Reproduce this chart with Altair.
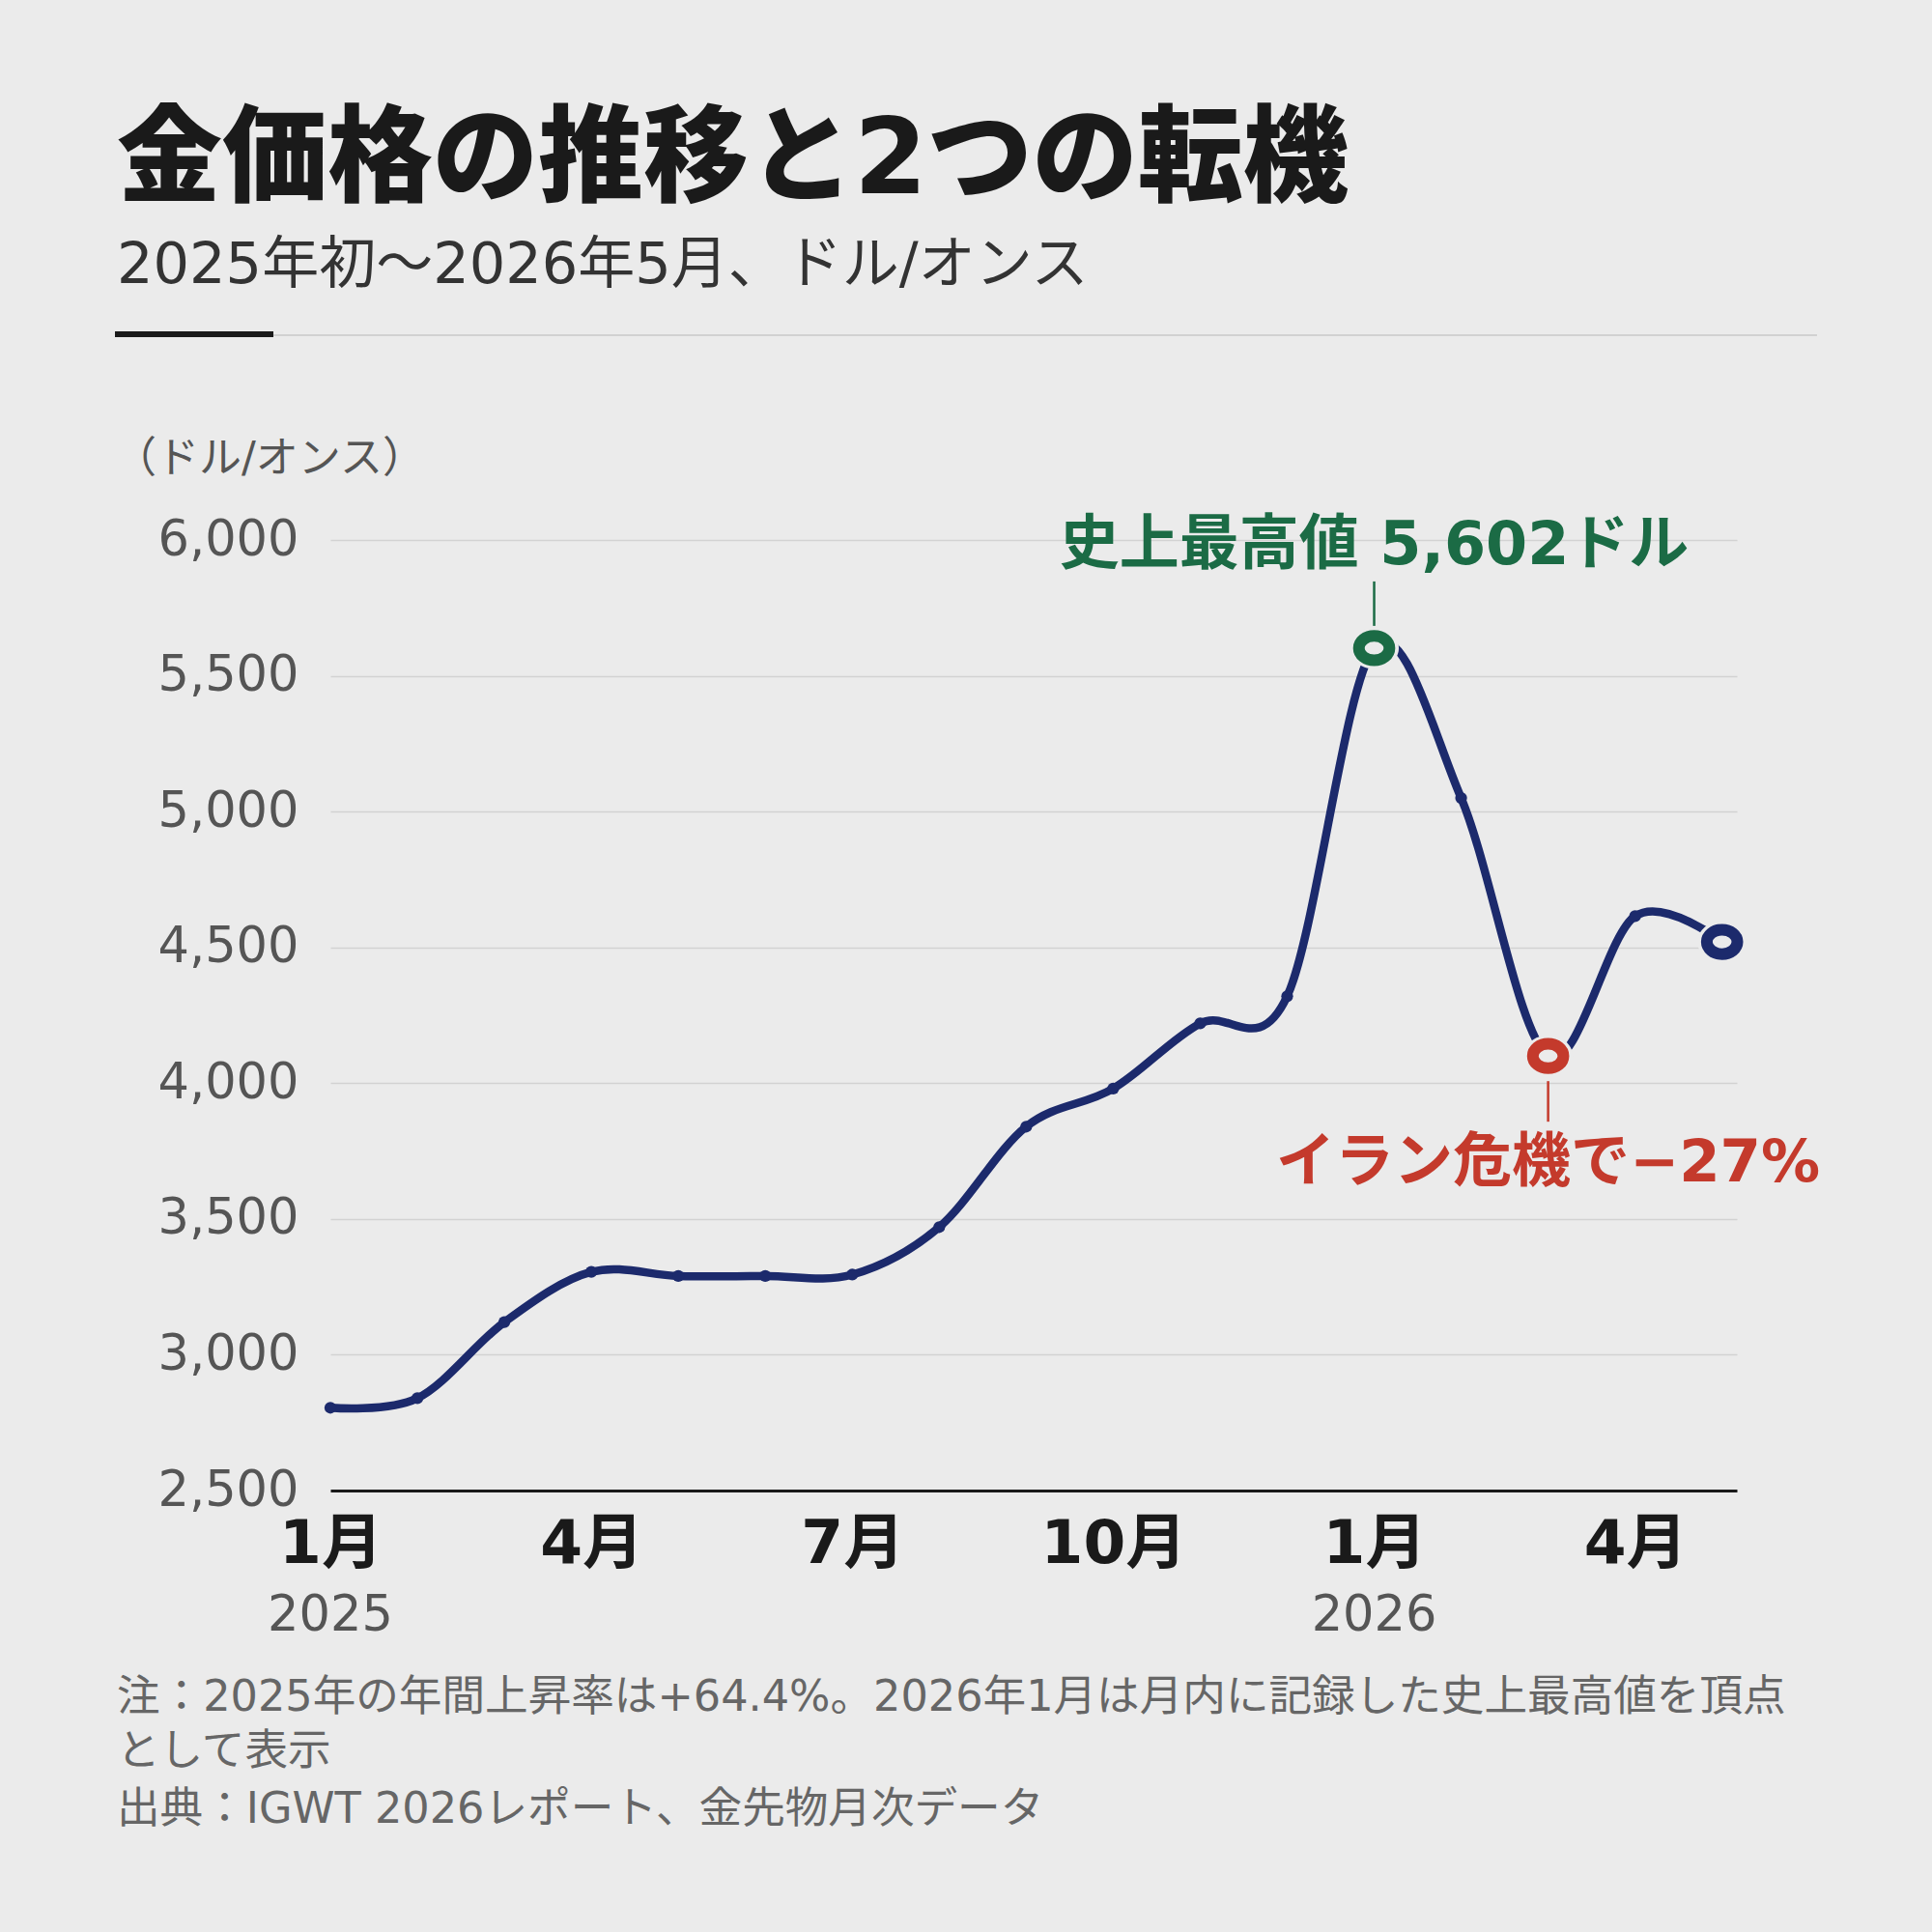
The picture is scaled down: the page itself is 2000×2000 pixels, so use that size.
import altair as alt
import pandas as pd

# ---- data -------------------------------------------------------------
month_idx = list(range(17))
month_names = ["2025-01", "2025-02", "2025-03", "2025-04", "2025-05", "2025-06",
               "2025-07", "2025-08", "2025-09", "2025-10", "2025-11", "2025-12",
               "2026-01", "2026-02", "2026-03", "2026-04", "2026-05"]
gold_price = [2805, 2840, 3120, 3305, 3290, 3290, 3295, 3470, 3840, 3980,
              4220, 4320, 5602, 5050, 4100, 4615, 4520]

x_tick_pos = [0, 3, 6, 9, 12, 15]
x_tick_labels = ["1月", "4月", "7月", "10月", "1月", "4月"]
year_pos = [0, 12]
year_labels = ["2025", "2026"]
y_ticks = [2500, 3000, 3500, 4000, 4500, 5000, 5500, 6000]

peak_idx = 12
low_idx = 14
last_idx = 16
peak_label = "史上最高値 5,602ドル"
low_label = "イラン危機で−27%"

title_text = "金価格の推移と2つの転機"
subtitle_text = "2025年初〜2026年5月、ドル/オンス"
unit_text = "（ドル/オンス）"
footer_lines = [
    "注：2025年の年間上昇率は+64.4%。2026年1月は月内に記録した史上最高値を頂点",
    "として表示",
    "出典：IGWT 2026レポート、金先物月次データ",
]

# ---- style ------------------------------------------------------------
BG = "#ebebeb"
NAVY = "#1c2a6c"
GREEN = "#1b6b45"
RED = "#c43a2c"
INK = "#1a1a1a"
GREY = "#555555"
FONT = "'DejaVu Sans', 'Noto Sans CJK JP', sans-serif"

W, H = 1456, 984
PAD_L, PAD_T = 342, 559

# slightly wide ellipse for ring markers
RING = "M -1 0 A 1 0.8 0 1 0 1 0 A 1 0.8 0 1 0 -1 0 Z"
HALO = "M -1 0 A 1 0.84 0 1 0 1 0 A 1 0.84 0 1 0 -1 0 Z"

df = pd.DataFrame({"idx": month_idx, "month": month_names, "price": gold_price})

label_expr = "{}[indexof({}, datum.value)]".format(
    "[" + ",".join("'%s'" % t for t in x_tick_labels) + "]",
    "[" + ",".join(str(p) for p in x_tick_pos) + "]",
)

x_enc = alt.X(
    "idx:Q",
    scale=alt.Scale(domain=[0, 16.17], nice=False, zero=False),
    axis=alt.Axis(
        values=x_tick_pos, labelExpr=label_expr, title=None, grid=False,
        ticks=False, domain=True, domainColor=INK, domainWidth=3,
        labelFont=FONT, labelFontSize=63, labelFontWeight="bold",
        labelColor=INK, labelPadding=24, labelOverlap=False, labelFlush=False,
    ),
)
y_enc = alt.Y(
    "price:Q",
    scale=alt.Scale(domain=[2500, 6000], nice=False, zero=False),
    axis=alt.Axis(
        values=y_ticks, format=",.0f", title=None, grid=True, gridColor="#d2d2d2",
        gridWidth=1.5, domain=False, ticks=False, labelFont=FONT,
        labelFontSize=51, labelColor=GREY, labelPadding=33,
    ),
)

base = alt.Chart(df).encode(x=x_enc, y=y_enc)

line = base.mark_line(color=NAVY, strokeWidth=8.5, interpolate="cardinal",
                      strokeCap="round")
dots = base.mark_circle(color=NAVY, size=150, opacity=1)


def marker_layer(i, color):
    sub = df[df["idx"] == i]
    b = alt.Chart(sub).encode(x="idx:Q", y="price:Q")
    halo = b.mark_point(shape=HALO, filled=True, fill=BG, stroke=None,
                        size=2600, opacity=1)
    ring = b.mark_point(shape=RING, filled=True, fill=BG, stroke=color,
                        strokeWidth=12, size=1000, opacity=1)
    return halo + ring


peak_df = df[df["idx"] == peak_idx].assign(label=peak_label)
low_df = df[df["idx"] == low_idx].assign(label=low_label)

peak_lead = alt.Chart(peak_df).mark_rule(
    color=GREEN, strokeWidth=2.5, yOffset=-23, y2Offset=-69
).encode(x="idx:Q", y="price:Q", y2="price:Q")
peak_text = alt.Chart(peak_df).mark_text(
    font=FONT, fontSize=62, fontWeight="bold", color=GREEN,
    align="center", baseline="middle", dy=-106,
).encode(x="idx:Q", y="price:Q", text="label:N")

low_lead = alt.Chart(low_df).mark_rule(
    color=RED, strokeWidth=2.5, yOffset=26, y2Offset=68
).encode(x="idx:Q", y="price:Q", y2="price:Q")
low_text = alt.Chart(low_df).mark_text(
    font=FONT, fontSize=61, fontWeight="bold", color=RED,
    align="center", baseline="middle", dy=112,
).encode(x="idx:Q", y="price:Q", text="label:N")

years_df = pd.DataFrame({"idx": year_pos, "label": year_labels})
years = alt.Chart(years_df).mark_text(
    font=FONT, fontSize=51, color=GREY, align="center", baseline="middle"
).encode(x="idx:Q", y=alt.value(H + 130), text="label:N")


def free_text(text, x, y, size, color, weight="normal"):
    return alt.Chart(pd.DataFrame({"t": [text]})).mark_text(
        font=FONT, fontSize=size, fontWeight=weight, color=color,
        align="left", baseline="middle",
    ).encode(x=alt.value(x), y=alt.value(y), text="t:N")


title = free_text(title_text, -221, -392, 109, INK, 900)
subtitle = free_text(subtitle_text, -221, -284, 59, "#333333")
unit = free_text(unit_text, -224, -83, 44, GREY)
footers = [free_text(t, -221, y, 44.6, "#666666")
           for t, y in zip(footer_lines, [1199, 1255, 1315])]

accent = alt.Chart(pd.DataFrame({"a": [0]})).mark_rule(
    color=INK, strokeWidth=6
).encode(x=alt.value(-223), x2=alt.value(-59), y=alt.value(-213))
divider = alt.Chart(pd.DataFrame({"a": [0]})).mark_rule(
    color="#c8c8c8", strokeWidth=1.5
).encode(x=alt.value(-59), x2=alt.value(1539), y=alt.value(-212))

chart = alt.layer(
    line, dots,
    marker_layer(last_idx, NAVY),
    marker_layer(peak_idx, GREEN),
    marker_layer(low_idx, RED),
    peak_lead, peak_text, low_lead, low_text, years,
    title, subtitle, unit, *footers, accent, divider,
).properties(
    width=W, height=H,
    padding={"left": PAD_L, "top": PAD_T, "right": 2000 - PAD_L - W,
             "bottom": 2000 - PAD_T - H},
    autosize=alt.AutoSizeParams(type="none"),
    background=BG,
).configure_view(stroke=None)

chart.save("out.html", embed_options={"renderer": "svg", "actions": False})
